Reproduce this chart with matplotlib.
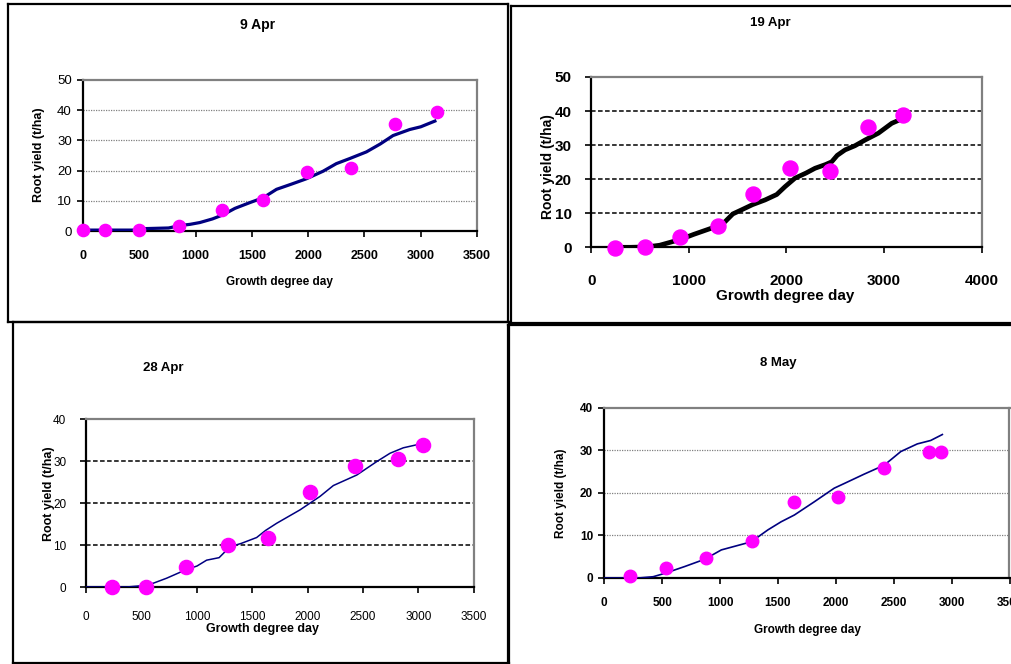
import matplotlib
matplotlib.use("Agg")
import matplotlib.pyplot as plt
from matplotlib.lines import Line2D

plt.rcParams['font.family'] = ['Liberation Sans', 'DejaVu Sans']

# ---------------- data ----------------
titles = ["9 Apr", "19 Apr", "28 Apr", "8 May"]
x_label = "Growth degree day"
y_label = "Root yield (t/ha)"

p1_obs_x = [0, 195, 500, 852, 1239, 1597, 1988, 2378, 2768, 3141]
p1_obs_y = [0.3, 0.3, 0.3, 1.7, 6.9, 10.3, 19.5, 20.8, 35.5, 39.4]
p1_sim_x = [0, 250, 500, 560, 760, 860, 950, 1038, 1150, 1240, 1350, 1482, 1600,
            1719, 1850, 1985, 2133, 2250, 2370, 2518, 2640, 2754, 2902, 3000, 3139]
p1_sim_y = [0.3, 0.3, 0.3, 0.8, 1.0, 1.8, 2.2, 2.8, 4.0, 5.3, 7.5, 9.4, 11.0,
            13.8, 15.5, 17.3, 19.8, 22.3, 24.0, 26.2, 28.8, 31.6, 33.6, 34.5, 36.6]

p2_obs_x = [243, 553, 912, 1295, 1653, 2039, 2446, 2832, 3197]
p2_obs_y = [-0.3, 0.1, 2.9, 6.4, 15.6, 23.4, 22.3, 35.4, 38.7]
p2_sim_x = [243, 400, 560, 700, 912, 1050, 1130, 1250, 1370, 1450, 1540, 1650, 1780,
            1900, 1985, 2087, 2200, 2292, 2400, 2463, 2520, 2600, 2700, 2805, 2941, 3078, 3197]
p2_sim_y = [0, 0, 0.1, 0.6, 2.3, 3.8, 4.6, 5.8, 7.5, 9.8, 11.0, 12.5, 13.9,
            15.5, 17.8, 20.3, 21.8, 23.2, 24.3, 25.1, 27.0, 28.6, 29.8, 31.5, 33.5, 36.4, 37.9]

p3_obs_x = [235, 539, 904, 1280, 1645, 2018, 2431, 2819, 3039]
p3_obs_y = [0.1, 0.1, 4.7, 9.9, 11.8, 22.6, 28.9, 30.5, 33.9]
p3_sim_x = [0, 364, 500, 605, 726, 907, 1000, 1087, 1200, 1298, 1400, 1539, 1620,
            1720, 1931, 2111, 2232, 2443, 2623, 2744, 2864, 3015]
p3_sim_y = [0, 0, 0.3, 0.9, 2.1, 4.2, 5.0, 6.4, 7.0, 9.6, 10.4, 11.8, 13.5,
            15.2, 18.4, 21.6, 24.2, 26.7, 29.9, 31.9, 33.2, 34.1]

p4_obs_x = [224, 534, 879, 1272, 1637, 2016, 2412, 2808, 2911]
p4_obs_y = [0.4, 2.4, 4.8, 8.8, 17.9, 19.0, 25.8, 29.7, 29.7]
p4_sim_x = [0, 293, 422, 523, 695, 867, 1011, 1269, 1413, 1527, 1642, 1814, 1986,
            2073, 2245, 2418, 2561, 2704, 2819, 2920]
p4_sim_y = [0, 0, 0.3, 1.1, 2.7, 4.4, 6.6, 8.5, 11.3, 13.2, 14.8, 17.9, 21.1,
            22.2, 24.4, 26.5, 29.7, 31.5, 32.3, 33.7]

x_ticks_a = [0, 500, 1000, 1500, 2000, 2500, 3000, 3500]
x_ticks_b = [0, 1000, 2000, 3000, 4000]
y_ticks_50 = [0, 10, 20, 30, 40, 50]
y_ticks_40 = [0, 10, 20, 30, 40]

# ---------------- layout ----------------
W, H = 1012, 664
fig = plt.figure(figsize=(W / 100, H / 100), dpi=100)
fig.patch.set_facecolor('white')


def fx(px):
    return px / W


def fy(py):
    return 1 - py / H


def add_axes_px(x0, y0, x1, y1):
    return fig.add_axes([fx(x0), fy(y1), (x1 - x0) / W, (y1 - y0) / H])


def box(x0, y0, x1, y1, lw=1.6):
    for xs, ys in [((x0, x1), (y0, y0)), ((x0, x1), (y1, y1)),
                   ((x0, x0), (y0, y1)), ((x1, x1), (y0, y1))]:
        fig.add_artist(Line2D([fx(xs[0]), fx(xs[1])], [fy(ys[0]), fy(ys[1])],
                              color='black', lw=lw, transform=fig.transFigure))


# panel boxes
box(8, 4, 508, 322)
box(511, 6, 1015, 323)
box(13, 322.5, 509, 663)
box(508, 325, 1015, 668)

NAVY = '#000080'
MAG = '#FF00FF'
GRAY = '#808080'


def style_axes(ax, xlim, ylim, xt, yt, grid_style, xfs, yfs, xbold, ybold, xpad, ypad):
    ax.set_xlim(*xlim)
    ax.set_ylim(*ylim)
    ax.set_xticks(xt)
    ax.set_yticks(yt)
    ax.set_xticklabels([str(v) for v in xt], fontsize=xfs,
                       fontweight='bold' if xbold else 'normal')
    ax.set_yticklabels([str(v) for v in yt], fontsize=yfs,
                       fontweight='bold' if ybold else 'normal')
    ax.tick_params(axis='x', direction='out', length=4, width=1.2, pad=xpad, colors='black')
    ax.tick_params(axis='y', direction='out', length=4, width=1.2, pad=ypad, colors='black')
    for s in ['left', 'bottom']:
        ax.spines[s].set_color('black')
        ax.spines[s].set_linewidth(1.6)
    for s in ['top', 'right']:
        ax.spines[s].set_color(GRAY)
        ax.spines[s].set_linewidth(1.6)
    for v in yt[1:-1]:
        if grid_style == 'dotted':
            ax.axhline(v, color=GRAY, lw=0.9, ls=(0, (1, 1)), zorder=1)
        else:
            ax.axhline(v, color='black', lw=1.1, ls=(0, (3, 1.6)), zorder=1)
    ax.set_facecolor('white')


# ---- Panel 1: 9 Apr ----
ax1 = add_axes_px(83, 80, 477, 231)
style_axes(ax1, (0, 3500), (0, 50), x_ticks_a, y_ticks_50, 'dotted', 9, 9.5, True, False, 10, 4)
ax1.plot(p1_sim_x, p1_sim_y, color=NAVY, lw=2.3, zorder=3, solid_capstyle='butt')
ax1.plot(p1_obs_x, p1_obs_y, 'o', color=MAG, ms=8.8, mec=MAG, zorder=4, clip_on=False)
fig.text(fx(258), fy(25), titles[0], ha='center', va='center', fontsize=10, fontweight='bold')
fig.text(fx(279), fy(282), x_label, ha='center', va='center', fontsize=8.5, fontweight='bold')
fig.text(fx(39), fy(155), y_label, ha='center', va='center', rotation=90, fontsize=9, fontweight='bold')

# ---- Panel 2: 19 Apr ----
ax2 = add_axes_px(591.3, 77, 981.7, 247.3)
style_axes(ax2, (0, 4000), (0, 50), x_ticks_b, y_ticks_50, 'dashed', 11, 11, True, True, 15, 10)
ax2.plot(p2_sim_x, p2_sim_y, color='black', lw=3.4, zorder=3)
ax2.plot(p2_obs_x, p2_obs_y, 'o', color=MAG, ms=10.8, mec=MAG, zorder=4, clip_on=False)
fig.text(fx(770), fy(23), titles[1], ha='center', va='center', fontsize=9.5, fontweight='bold')
fig.text(fx(785), fy(296), x_label, ha='center', va='center', fontsize=11, fontweight='bold')
fig.text(fx(548), fy(167), y_label, ha='center', va='center', rotation=90, fontsize=10, fontweight='bold')

# ---- Panel 3: 28 Apr ----
ax3 = add_axes_px(86.3, 419.3, 473.7, 587)
style_axes(ax3, (0, 3500), (0, 40), x_ticks_a, y_ticks_40, 'dashed', 8.5, 8.5, False, False, 13, 10.5)
ax3.plot(p3_sim_x, p3_sim_y, color=NAVY, lw=1.1, zorder=3)
ax3.plot(p3_obs_x, p3_obs_y, 'o', color=MAG, ms=10.2, mec=MAG, zorder=4, clip_on=False)
fig.text(fx(163), fy(368), titles[2], ha='center', va='center', fontsize=9.5, fontweight='bold')
fig.text(fx(263), fy(629), x_label, ha='center', va='center', fontsize=9, fontweight='bold')
fig.text(fx(49), fy(494), y_label, ha='center', va='center', rotation=90, fontsize=9, fontweight='bold')

# ---- Panel 4: 8 May ----
ax4 = add_axes_px(604.3, 407.7, 1009.5, 578)
style_axes(ax4, (0, 3500), (0, 40), x_ticks_a, y_ticks_40, 'dotted', 8.5, 8.5, True, True, 10, 4)
ax4.plot(p4_sim_x, p4_sim_y, color=NAVY, lw=1.2, zorder=3)
ax4.plot(p4_obs_x, p4_obs_y, 'o', color=MAG, ms=9, mec=MAG, zorder=4, clip_on=False)
fig.text(fx(778), fy(363), titles[3], ha='center', va='center', fontsize=9.5, fontweight='bold')
fig.text(fx(807), fy(630), x_label, ha='center', va='center', fontsize=8.5, fontweight='bold')
fig.text(fx(561), fy(493), y_label, ha='center', va='center', rotation=90, fontsize=8.5, fontweight='bold')

fig.savefig("out.png", dpi=100, facecolor='white')
